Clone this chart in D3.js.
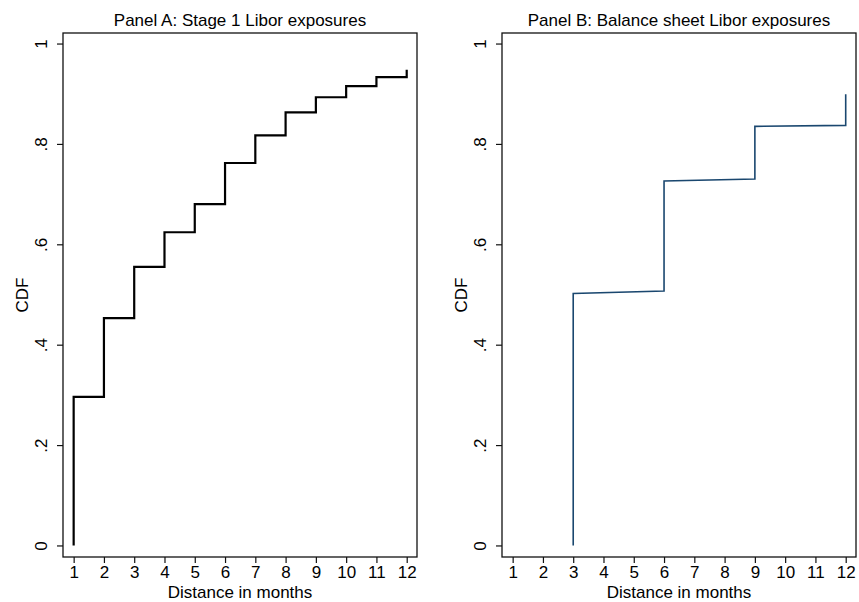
<!DOCTYPE html>
<html>
<head>
<meta charset="utf-8">
<script src="https://cdn.jsdelivr.net/npm/d3@7"></script>
<style>
  body { margin: 0; background: #fff; }
  text { font-family: "Liberation Sans", Arial, sans-serif; fill: #000; }
</style>
</head>
<body>
<script>
// Tick labels
var monthTicks = d3.range(1, 13);
var cdfTicks = [0, 0.2, 0.4, 0.6, 0.8, 1];

// Panel A: Stage 1 Libor exposures (CDF step points)
var stageX = [1, 1, 2, 2, 3, 3, 4, 4, 5, 5, 6, 6, 7, 7, 8, 8, 9, 9, 10, 10, 11, 11, 12, 12];
var stageY = [0, 0.296, 0.296, 0.453, 0.453, 0.555, 0.555, 0.624, 0.624, 0.680, 0.680, 0.762,
              0.762, 0.817, 0.817, 0.863, 0.863, 0.893, 0.893, 0.915, 0.915, 0.933, 0.933, 0.948];

// Panel B: Balance sheet Libor exposures
var balanceX = [3, 3, 6, 6, 9, 9, 12, 12];
var balanceY = [0, 0.502, 0.507, 0.726, 0.730, 0.835, 0.837, 0.899];

var width = 859, height = 602;

var svg = d3.select("body").append("svg")
    .attr("width", width)
    .attr("height", height);

// Panel settings
var panels = [
  { title: "Panel A: Stage 1 Libor exposures", xs: stageX, ys: stageY,
    left: 63, right: 417, color: "#000", lw: 2.2 },
  { title: "Panel B: Balance sheet Libor exposures", xs: balanceX, ys: balanceY,
    left: 502, right: 856, color: "#1a476f", lw: 1.6 }
];

var plotTop = 33, plotBottom = 557;

panels.forEach(function(p) {
  var x = d3.scaleLinear().domain([0.648, 12.34]).range([p.left, p.right]);
  var y = d3.scaleLinear().domain([-0.023, 1.021]).range([plotBottom, plotTop]);

  var g = svg.append("g");

  // plot frame
  g.append("rect")
      .attr("x", p.left).attr("y", plotTop)
      .attr("width", p.right - p.left).attr("height", plotBottom - plotTop)
      .attr("fill", "none").attr("stroke", "#111").attr("stroke-width", 1.3);

  // x axis
  var xAxis = g.append("g")
      .attr("transform", "translate(0," + plotBottom + ")")
      .call(d3.axisBottom(x).tickValues(monthTicks).tickSize(6).tickPadding(3));
  xAxis.select(".domain").remove();
  xAxis.selectAll("line").attr("stroke", "#111").attr("stroke-width", 1.2);
  xAxis.selectAll("text").attr("font-size", 17).attr("font-family", null);

  // y axis
  var yAxis = g.append("g")
      .attr("transform", "translate(" + p.left + ",0)")
      .call(d3.axisLeft(y).tickValues(cdfTicks).tickSize(6)
            .tickFormat(function(d) { return d === 0 || d === 1 ? String(d) : d3.format(".1f")(d).replace("0.", "."); }));
  yAxis.select(".domain").remove();
  yAxis.selectAll("line").attr("stroke", "#111").attr("stroke-width", 1.2);
  yAxis.selectAll("text")
      .attr("font-family", null)
      .attr("font-size", 17)
      .attr("x", null).attr("dy", null)
      .attr("text-anchor", "middle")
      .attr("transform", "translate(-21.5,0) rotate(-90)")
      .attr("dy", "0.35em");

  // line
  var pts = p.xs.map(function(v, i) { return [v, p.ys[i]]; });
  g.append("path")
      .datum(pts)
      .attr("fill", "none")
      .attr("stroke", p.color)
      .attr("stroke-width", p.lw)
      .attr("d", d3.line().x(function(d) { return x(d[0]); }).y(function(d) { return y(d[1]); }));

  // titles
  var cx = (p.left + p.right) / 2;
  g.append("text").attr("x", cx).attr("y", 26)
      .attr("text-anchor", "middle").attr("font-size", 17).text(p.title);
  g.append("text").attr("x", cx).attr("y", 598)
      .attr("text-anchor", "middle").attr("font-size", 17).text("Distance in months");
  g.append("text")
      .attr("transform", "translate(" + (p.left - 41) + "," + ((plotTop + plotBottom) / 2) + ") rotate(-90)")
      .attr("dy", "0.35em")
      .attr("text-anchor", "middle").attr("font-size", 17).text("CDF");
});
</script>
</body>
</html>
